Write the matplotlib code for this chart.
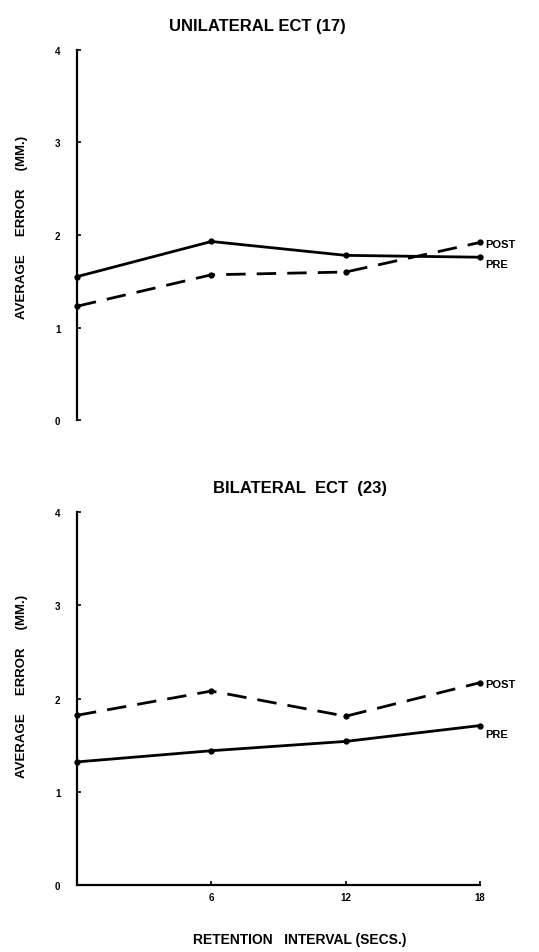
import matplotlib
matplotlib.use("Agg")
import matplotlib.pyplot as plt

plt.rcParams['font.family'] = ['Liberation Sans', 'DejaVu Sans']

x_vals = [0, 6, 12, 18]
x_ticks = [6, 12, 18]
x_ticklabels = ["6", "12", "18"]
y_ticks = [0, 1, 2, 3, 4]

uni_pre = [1.55, 1.93, 1.78, 1.76]
uni_post = [1.23, 1.57, 1.60, 1.92]
bi_pre = [1.32, 1.44, 1.54, 1.71]
bi_post = [1.82, 2.08, 1.81, 2.17]

titles = ["UNILATERAL ECT (17)", "BILATERAL  ECT  (23)"]
ylabel = "AVERAGE     ERROR     (MM.)"
xlabel = "RETENTION   INTERVAL (SECS.)"

fig = plt.figure(figsize=(5.39, 9.53), dpi=100)
ax1 = fig.add_axes([0.1429, 0.5582, 0.7477, 0.3883])
ax2 = fig.add_axes([0.1429, 0.0703, 0.7477, 0.3914])

lw = 2.0
panels = [(ax1, uni_pre, uni_post, titles[0], False, (257, 26), 0.524),
          (ax2, bi_pre, bi_post, titles[1], True, (300, 489), 0.534)]
for ax, pre, post, title, show_x, tpos, ylab_y in panels:
    ax.plot(x_vals, pre, color='black', lw=lw, marker='o', ms=3.5, clip_on=False,
            solid_capstyle='butt')
    ax.plot(x_vals, post, color='black', lw=lw, marker='o', ms=3.5, clip_on=False,
            dashes=(7, 4))
    ax.set_xlim(0, 18)
    ax.set_ylim(0, 4)
    ax.spines['top'].set_visible(False)
    ax.spines['right'].set_visible(False)
    ax.spines['left'].set_linewidth(1.6)
    ax.set_yticks(y_ticks)
    ax.set_yticklabels([str(v) for v in y_ticks], fontsize=7, fontweight='bold')
    ax.tick_params(axis='y', direction='in', length=3, width=1.2, pad=12)
    if show_x:
        ax.spines['bottom'].set_linewidth(1.6)
        ax.set_xticks(x_ticks)
        ax.set_xticklabels(x_ticklabels, fontsize=7, fontweight='bold')
        ax.tick_params(axis='x', direction='in', length=3, width=1.2, pad=5)
        ax.set_xlabel(xlabel, fontsize=10, fontweight='bold')
        ax.xaxis.set_label_coords((300 - 77) / 403, -(933 - 886) / 373)
    else:
        ax.spines['bottom'].set_visible(False)
        ax.set_xticks([])
    ax.set_ylabel(ylabel, fontsize=9.5, fontweight='bold')
    ax.yaxis.set_label_coords((28 - 77) / 403, ylab_y)
    fig.text(tpos[0] / 539, 1 - tpos[1] / 953, title, fontsize=12, fontweight='bold',
             ha='center', va='center')
    ax.annotate("POST", xy=(x_vals[-1], post[-1]), xytext=(4, -1), textcoords='offset points',
                fontsize=8, fontweight='bold', va='center', ha='left', annotation_clip=False)
    ax.annotate("PRE", xy=(x_vals[-1], pre[-1]), xytext=(4, -5 if ax is ax1 else -6),
                textcoords='offset points',
                fontsize=8, fontweight='bold', va='center', ha='left', annotation_clip=False)

fig.savefig("out.png", dpi=100)
